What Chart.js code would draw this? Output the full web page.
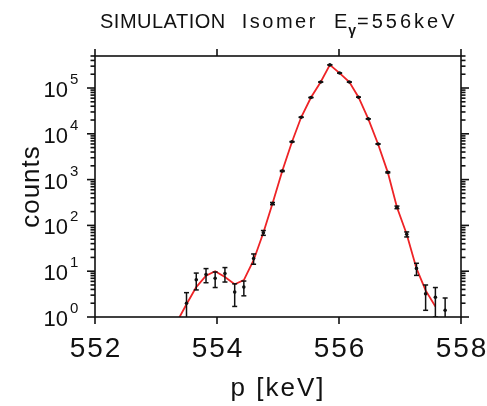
<!DOCTYPE html>
<html>
<head>
<meta charset="utf-8">
<script src="https://cdn.jsdelivr.net/npm/chart.js@4.4.1/dist/chart.umd.min.js"></script>
<style>
  html, body { margin: 0; padding: 0; background: #fff; }
  #specChart { display: block; }
</style>
</head>
<body>
<canvas id="specChart" width="487" height="406"></canvas>
<script>
// bin centres [keV] and simulated counts with their errors
var energy = [553.50, 553.66, 553.82, 553.97, 554.13, 554.29, 554.44, 554.60, 554.76, 554.91,
              555.07, 555.23, 555.38, 555.54, 555.70, 555.85, 556.01, 556.17, 556.32, 556.48,
              556.64, 556.80, 556.95, 557.11, 557.27, 557.42, 557.58, 557.74];
var counts = [2.0, 6.5, 8.5, 7.0, 8.9, 3.5, 4.5, 19, 69, 300,
              1540, 6700, 23000, 62000, 135000, 320000, 212000, 135000, 63000, 21200,
              6000, 1440, 248, 64, 11.5, 3.2, 2.7, 1.4];
var countErr = [1.4, 2.6, 2.9, 2.6, 3.1, 1.8, 1.6, 4.8, 8.3, 17,
                39, 82, 150, 250, 370, 570, 460, 370, 250, 146,
                77, 38, 16, 8, 3.4, 1.8, 1.7, 1.2];

// fitted line shape
var fitEnergy = [553.34, 553.50, 553.66, 553.82, 553.97, 554.13, 554.29, 554.44, 554.60, 554.76,
                 554.91, 555.07, 555.23, 555.38, 555.54, 555.70, 555.85, 556.01, 556.17, 556.32,
                 556.48, 556.64, 556.80, 556.95, 557.11, 557.27, 557.42, 557.58];
var fitCounts = [0.77, 1.9, 4.5, 8.0, 10, 7.5, 5.2, 6.4, 17.4, 69,
                 300, 1540, 6700, 23000, 62000, 135000, 320000, 212000, 135000, 63000,
                 21200, 6000, 1440, 248, 64, 11.5, 3.8, 1.7];

var xTicks = [552, 554, 556, 558];
var xTickLabels = ['552', '554', '556', '558'];
var yDecades = [0, 1, 2, 3, 4, 5];

var FONT = '"Liberation Sans", Arial, sans-serif';

function font(size) {
    return size + 'px ' + FONT;
}

function line(ctx, x1, y1, x2, y2) {
    ctx.beginPath();
    ctx.moveTo(x1, y1);
    ctx.lineTo(x2, y2);
    ctx.stroke();
}

// draws text with the given letter spacing, returns the x where it ends
function spacedText(ctx, text, x, y, spacing) {
    ctx.letterSpacing = spacing + 'px';
    ctx.fillText(text, x, y);
    var w = ctx.measureText(text).width;
    ctx.letterSpacing = '0px';
    return x + w;
}

// error bars with small caps, using the chart's own scales
var errorBars = {
    id: 'errorBars',
    afterDatasetsDraw: function (chart) {
        var ctx = chart.ctx, a = chart.chartArea;
        var xs = chart.scales.x, ys = chart.scales.y;
        ctx.save();
        ctx.beginPath();
        ctx.rect(a.left, a.top, a.right - a.left, a.bottom - a.top);
        ctx.clip();
        ctx.strokeStyle = '#111';
        ctx.lineWidth = 1.5;
        energy.forEach(function (e, i) {
            var px = xs.getPixelForValue(e);
            var lo = counts[i] - countErr[i];
            var hi = counts[i] + countErr[i];
            var pyHi = ys.getPixelForValue(hi);
            var pyLo = lo > 0 ? ys.getPixelForValue(lo) : a.bottom + 5;
            line(ctx, px, pyHi, px, pyLo);
            line(ctx, px - 2.5, pyHi, px + 2.5, pyHi);
            line(ctx, px - 2.5, pyLo, px + 2.5, pyLo);
        });
        ctx.restore();
    }
};

// frame, ticks, tick labels, axis titles and heading
var frameAndLabels = {
    id: 'frameAndLabels',
    afterDraw: function (chart) {
        var ctx = chart.ctx, a = chart.chartArea;
        var xs = chart.scales.x, ys = chart.scales.y;
        ctx.save();
        ctx.strokeStyle = '#111';
        ctx.fillStyle = '#111';
        ctx.lineWidth = 1.6;
        ctx.strokeRect(a.left, a.top, a.right - a.left, a.bottom - a.top);

        // x ticks, bottom and top
        xTicks.forEach(function (v) {
            var px = xs.getPixelForValue(v);
            line(ctx, px, a.bottom, px, a.bottom + 7);
            line(ctx, px, a.top, px, a.top - 7);
        });

        // log ticks, left and right
        yDecades.forEach(function (d) {
            for (var k = 1; k <= 9; k++) {
                var v = k * Math.pow(10, d);
                if (v > ys.max) break;
                var py = ys.getPixelForValue(v);
                var len = k === 1 ? 8 : 4.5;
                line(ctx, a.left, py, a.left - len, py);
                line(ctx, a.right, py, a.right + len, py);
            }
        });

        // x tick labels
        ctx.font = font(28);
        ctx.textBaseline = 'alphabetic';
        xTicks.forEach(function (v, i) {
            ctx.letterSpacing = '2px';
            var w = ctx.measureText(xTickLabels[i]).width;
            ctx.textAlign = 'left';
            ctx.fillText(xTickLabels[i], xs.getPixelForValue(v) - w / 2 + 1, a.bottom + 40);
        });
        ctx.letterSpacing = '0px';

        // y tick labels 10^n
        yDecades.forEach(function (d) {
            var py = ys.getPixelForValue(Math.pow(10, d));
            ctx.font = font(22);
            ctx.textAlign = 'right';
            ctx.fillText('10', 68, py + 9);
            ctx.font = font(15);
            ctx.textAlign = 'left';
            ctx.fillText(String(d), 70, py - 4);
        });

        // axis titles
        ctx.font = font(26);
        ctx.textAlign = 'left';
        ctx.letterSpacing = '2px';
        var t = 'p [keV]';
        var tw = ctx.measureText(t).width;
        ctx.fillText(t, (a.left + a.right) / 2 - tw / 2, 396);
        ctx.save();
        ctx.translate(39, (a.top + a.bottom) / 2);
        ctx.rotate(-Math.PI / 2);
        ctx.letterSpacing = '1px';
        var cw = ctx.measureText('counts').width;
        ctx.fillText('counts', -cw / 2, 0);
        ctx.restore();
        ctx.letterSpacing = '0px';

        // heading with E subscript gamma
        ctx.font = font(20);
        ctx.textAlign = 'left';
        var x = 100;
        x = spacedText(ctx, 'SIMULATION', x, 28, 0.5);
        x = spacedText(ctx, 'Isomer', x + 16, 28, 2.5);
        x = spacedText(ctx, 'E', x + 16, 28, 0);
        ctx.font = 'bold ' + font(14);
        x = spacedText(ctx, '\u03b3', x + 1, 35, 0);
        ctx.font = font(20);
        spacedText(ctx, '=556keV', x + 1, 28, 3);
        ctx.restore();
    }
};

new Chart(document.getElementById('specChart'), {
    type: 'line',
    data: {
        datasets: [
            {
                label: 'data',
                data: energy.map(function (e, i) { return { x: e, y: counts[i] }; }),
                showLine: false,
                pointRadius: 1.8,
                pointBackgroundColor: '#111',
                pointBorderColor: '#111',
                pointBorderWidth: 0,
                order: 0
            },
            {
                label: 'fit',
                data: fitEnergy.map(function (e, i) { return { x: e, y: fitCounts[i] }; }),
                borderColor: '#ee2326',
                borderWidth: 1.8,
                pointRadius: 0,
                tension: 0,
                fill: false,
                order: 1
            }
        ]
    },
    options: {
        responsive: false,
        animation: false,
        devicePixelRatio: 1,
        layout: { padding: { left: 95, right: 26, top: 56, bottom: 89 } },
        plugins: {
            legend: { display: false },
            title: { display: false },
            tooltip: { enabled: false }
        },
        scales: {
            x: { type: 'linear', min: 552, max: 558, display: false },
            y: { type: 'logarithmic', min: 1, max: 5e5, display: false }
        }
    },
    plugins: [errorBars, frameAndLabels]
});
</script>
</body>
</html>
